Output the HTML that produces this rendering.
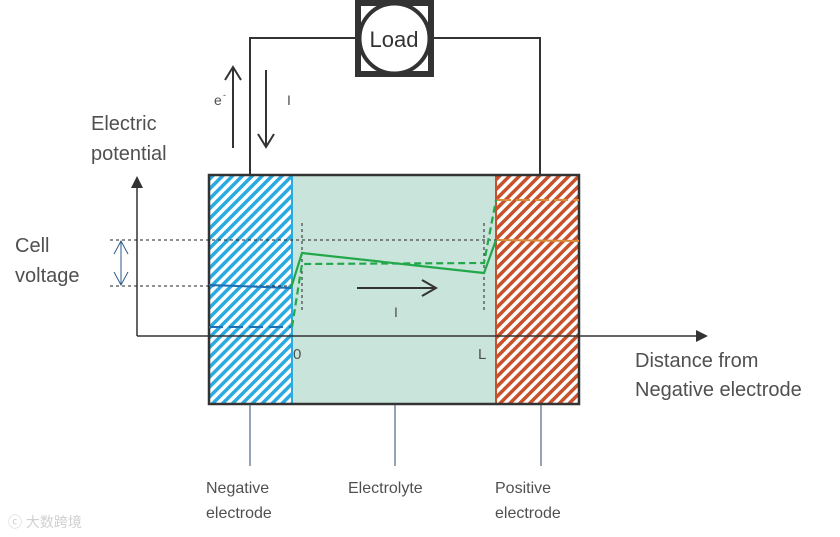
<!DOCTYPE html>
<html><head><meta charset="utf-8"><style>
html,body{margin:0;padding:0;background:#fff;width:840px;height:537px;overflow:hidden}
svg text{font-family:"Liberation Sans","Noto Sans CJK SC",sans-serif;fill:#505050}
</style></head><body>
<svg width="840" height="537" viewBox="0 0 840 537" xmlns="http://www.w3.org/2000/svg">
<defs>
<pattern id="hb" patternUnits="userSpaceOnUse" width="7" height="7" patternTransform="rotate(45)">
<rect width="7" height="7" fill="#fff"/><rect width="3.5" height="7" fill="#29abe2"/></pattern>
<pattern id="hr" patternUnits="userSpaceOnUse" width="7" height="7" patternTransform="rotate(45)">
<rect width="7" height="7" fill="#fff"/><rect width="3.5" height="7" fill="#c8502a"/></pattern>
</defs>
<polyline points="250,175 250,38 540,38 540,175" fill="none" stroke="#333" stroke-width="2"/>
<rect x="358" y="3" width="73" height="71" fill="#fff" stroke="#333" stroke-width="6"/>
<circle cx="394.5" cy="38.5" r="35" fill="#fff" stroke="#333" stroke-width="4"/>
<text x="394" y="47" font-size="22" text-anchor="middle" style="fill:#333">Load</text>
<line x1="233" y1="148" x2="233" y2="68" stroke="#333" stroke-width="2"/>
<polyline points="225,80 233,67 241,80" fill="none" stroke="#333" stroke-width="2"/>
<text x="214" y="105" font-size="14">e</text><text x="223" y="98" font-size="9">-</text>
<line x1="266" y1="70" x2="266" y2="146" stroke="#333" stroke-width="2"/>
<polyline points="258,134 266,147 274,134" fill="none" stroke="#333" stroke-width="2"/>
<text x="287" y="105" font-size="14">I</text>
<rect x="292" y="175" width="204" height="229" fill="#c9e4da"/>
<rect x="209" y="175" width="83" height="229" fill="url(#hb)"/>
<rect x="496" y="175" width="83" height="229" fill="url(#hr)"/>
<line x1="292" y1="175" x2="292" y2="404" stroke="#29abe2" stroke-width="2"/>
<line x1="496" y1="175" x2="496" y2="404" stroke="#c8502a" stroke-width="2"/>
<rect x="209" y="175" width="370" height="229" fill="none" stroke="#333" stroke-width="2.5"/>
<line x1="137" y1="336" x2="137" y2="186" stroke="#333" stroke-width="1.5"/>
<polygon points="131,188 137,176 143,188" fill="#333"/>
<line x1="137" y1="336" x2="698" y2="336" stroke="#333" stroke-width="1.5"/>
<polygon points="696,330 708,336 696,342" fill="#333"/>
<line x1="110" y1="240" x2="496" y2="240" stroke="#222" stroke-dasharray="3,3"/>
<line x1="110" y1="286" x2="292" y2="286" stroke="#222" stroke-dasharray="3,3"/>
<line x1="302" y1="223" x2="302" y2="312" stroke="#222" stroke-dasharray="3,3"/>
<line x1="484" y1="223" x2="484" y2="312" stroke="#222" stroke-dasharray="3,3"/>
<line x1="121" y1="241" x2="121" y2="285" stroke="#2b5a8a" stroke-width="1"/>
<polyline points="114,254 121,241 128,254" fill="none" stroke="#2b5a8a"/>
<polyline points="114,272 121,285 128,272" fill="none" stroke="#2b5a8a"/>
<line x1="209" y1="285" x2="291" y2="288" stroke="#1f6fb5" stroke-width="2"/>
<line x1="209" y1="327" x2="291" y2="327" stroke="#1f6fb5" stroke-width="2" stroke-dasharray="14,6"/>
<polyline points="291,288 302,253 484,273 496,240" fill="none" stroke="#22a84a" stroke-width="2.2"/>
<polyline points="292,327 302,264 484,263 496,200" fill="none" stroke="#22a84a" stroke-width="2.2" stroke-dasharray="7,4"/>
<line x1="497" y1="200" x2="579" y2="200" stroke="#d98a3a" stroke-width="2" stroke-dasharray="14,5"/>
<line x1="497" y1="240" x2="579" y2="241" stroke="#d98a3a" stroke-width="2"/>
<line x1="357" y1="288" x2="435" y2="288" stroke="#333" stroke-width="2"/>
<polyline points="422,280 436,288 422,296" fill="none" stroke="#333" stroke-width="2"/>
<text x="394" y="317" font-size="14">I</text>
<text x="293" y="359" font-size="15">0</text>
<text x="478" y="359" font-size="15">L</text>
<line x1="250" y1="404" x2="250" y2="466" stroke="#2b4a6a"/>
<line x1="395" y1="404" x2="395" y2="466" stroke="#2b4a6a"/>
<line x1="541" y1="404" x2="541" y2="466" stroke="#2b4a6a"/>
<text x="91" y="130" font-size="20">Electric</text>
<text x="91" y="160" font-size="20">potential</text>
<text x="15" y="252" font-size="20">Cell</text>
<text x="15" y="282" font-size="20">voltage</text>
<text x="635" y="367" font-size="20">Distance from</text>
<text x="635" y="396" font-size="20">Negative electrode</text>
<text x="206" y="493" font-size="16">Negative</text>
<text x="206" y="518" font-size="16">electrode</text>
<text x="348" y="493" font-size="16">Electrolyte</text>
<text x="495" y="493" font-size="16">Positive</text>
<text x="495" y="518" font-size="16">electrode</text>
<text x="8" y="527" font-size="14" style="fill:#d0d0d0">ⓒ 大数跨境</text>
</svg>
</body></html>
